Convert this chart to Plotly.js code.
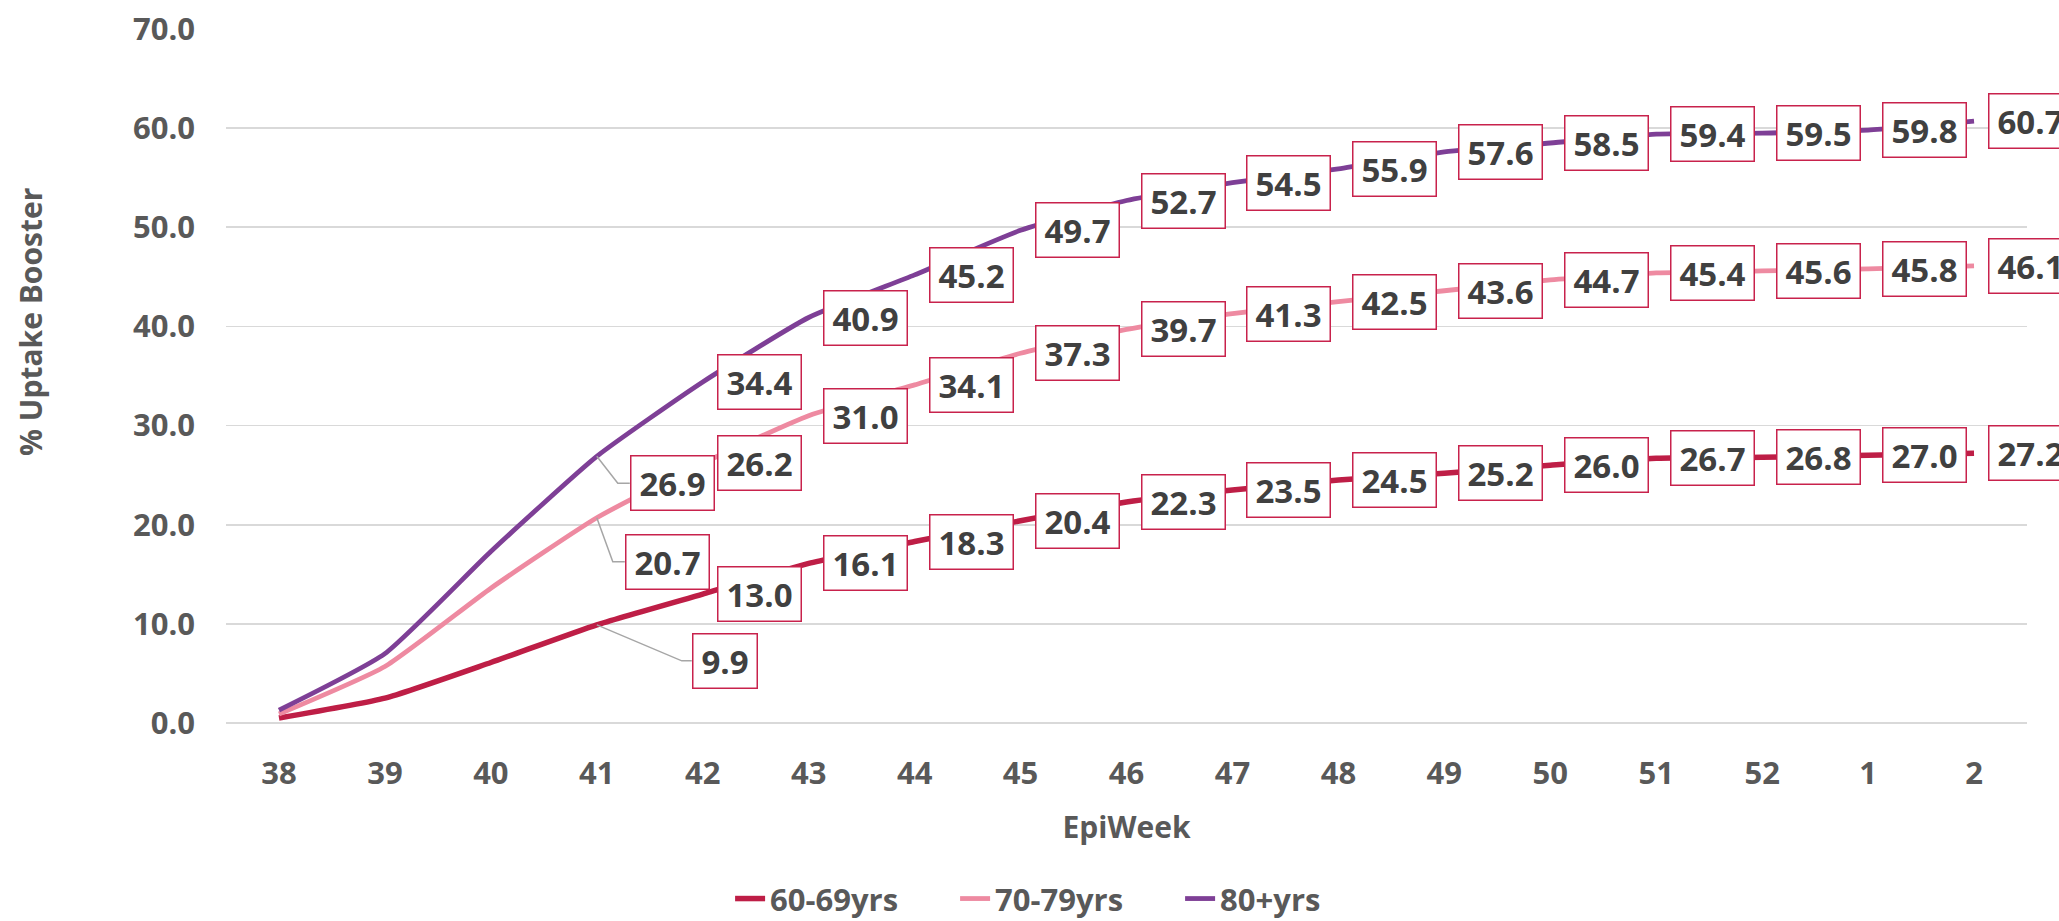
<!DOCTYPE html>
<html>
<head>
<meta charset="utf-8">
<script src="https://cdn.plot.ly/plotly-3.0.1.min.js"></script>
<style>
  html, body { margin: 0; padding: 0; background: #ffffff; }
  #chart { width: 2059px; height: 921px; }
</style>
</head>
<body>
<div id="chart"></div>
<script>
// ---- data ----
const weeks = ['38','39','40','41','42','43','44','45','46','47','48','49','50','51','52','1','2'];
const uptake6069 = [0.5, 2.5, 6.1, 9.9, 13.0, 16.1, 18.3, 20.4, 22.3, 23.5, 24.5, 25.2, 26.0, 26.7, 26.8, 27.0, 27.2];
const uptake7079 = [0.9, 5.7, 13.6, 20.7, 26.2, 31.0, 34.1, 37.3, 39.7, 41.3, 42.5, 43.6, 44.7, 45.4, 45.6, 45.8, 46.1];
const uptake80 = [1.3, 7.0, 17.3, 26.9, 34.4, 40.9, 45.2, 49.7, 52.7, 54.5, 55.9, 57.6, 58.5, 59.4, 59.5, 59.8, 60.7];
const seriesNames = ['60-69yrs', '70-79yrs', '80+yrs'];
const yTickValues = [0, 10, 20, 30, 40, 50, 60, 70];
const firstLabelIndex = 3;

// ---- styles ----
const colors = ['#BE1E46', '#EE8AA1', '#7E3F96'];
const widths = [5.5, 4.8, 4.8];
const FONT = '"Open Sans", "Liberation Sans", sans-serif';
const GRAY = '#595959';
// leader-line layout for first labelled point (pixel offsets: corner dx/dy, box left dx)
const leaderStyle = [
  { cx: 85, cy: 36, bx: 95 },
  { cx: 16, cy: 44, bx: 28 },
  { cx: 21, cy: 27, bx: 33 }
];

const allSeries = [uptake6069, uptake7079, uptake80];
const idx = weeks.map((w, i) => i);

const traces = allSeries.map((vals, k) => ({
  type: 'scatter',
  mode: 'lines',
  name: seriesNames[k],
  x: idx,
  y: vals,
  line: { color: colors[k], width: widths[k], shape: 'spline', smoothing: 0.5 },
  hoverinfo: 'y+name'
}));

const annotations = [];
const shapes = [];
allSeries.forEach((vals, k) => {
  for (let i = firstLabelIndex; i < vals.length; i++) {
    const txt = vals[i].toFixed(1);
    const ann = {
      x: idx[i], y: vals[i], xref: 'x', yref: 'y',
      text: txt, showarrow: false,
      xanchor: 'left', yanchor: 'middle',
      font: { family: FONT, size: 33, color: '#404040', weight: 700 },
      bgcolor: '#ffffff', bordercolor: '#C8224C', borderwidth: 1.5, borderpad: 4,
      width: txt.length >= 4 ? 74 : 55,
      xshift: 14, yshift: 0
    };
    if (i === firstLabelIndex) {
      const ls = leaderStyle[k];
      ann.xshift = ls.bx;
      ann.yshift = -ls.cy;
      shapes.push({
        type: 'path', xref: 'x', yref: 'y',
        xsizemode: 'pixel', ysizemode: 'pixel',
        xanchor: idx[i], yanchor: vals[i],
        path: 'M0,0 L' + ls.cx + ',' + (-ls.cy) + ' L' + ls.bx + ',' + (-ls.cy),
        line: { color: '#A6A6A6', width: 1.5 },
        layer: 'above'
      });
    }
    annotations.push(ann);
  }
});

// y-axis title as rotated text
annotations.push({
  xref: 'paper', yref: 'paper', x: -0.1088, y: 0.5778,
  xanchor: 'center', yanchor: 'middle', showarrow: false,
  text: '% Uptake Booster', textangle: -90,
  font: { family: FONT, size: 30, color: GRAY, weight: 700 }
});

const layout = {
  width: 2059, height: 921,
  paper_bgcolor: '#ffffff', plot_bgcolor: '#ffffff',
  margin: { l: 226, r: 32, t: 29, b: 198, pad: 0 },
  font: { family: FONT, color: GRAY },
  showlegend: true,
  legend: {
    orientation: 'h', xref: 'container', yref: 'container',
    x: 0.5185, xanchor: 'center', y: 0.024, yanchor: 'middle',
    font: { family: FONT, size: 31, color: GRAY, weight: 700 },
    traceorder: 'normal', itemwidth: 30, entrywidth: 180, entrywidthmode: 'pixels'
  },
  xaxis: {
    type: 'linear', range: [-0.5, weeks.length - 0.5],
    tickmode: 'array', tickvals: idx, ticktext: weeks,
    showgrid: false, zeroline: false, showline: false, ticks: '',
    tickfont: { family: FONT, size: 31, color: GRAY, weight: 700 },
    ticklabelstandoff: 29,
    title: { text: 'EpiWeek', font: { family: FONT, size: 30, color: GRAY, weight: 700 }, standoff: 24 }
  },
  yaxis: {
    range: [0, 70], tickvals: yTickValues, tickformat: '.1f',
    showgrid: true, gridcolor: '#D9D9D9', gridwidth: 1.8,
    zeroline: true, zerolinecolor: '#D9D9D9', zerolinewidth: 1.8,
    showline: false, ticks: '',
    tickfont: { family: FONT, size: 31, color: GRAY, weight: 700 },
    ticklabelstandoff: 30
  },
  annotations: annotations,
  shapes: shapes
};

Plotly.newPlot('chart', traces, layout, { displayModeBar: false, staticPlot: true });
</script>
</body>
</html>
